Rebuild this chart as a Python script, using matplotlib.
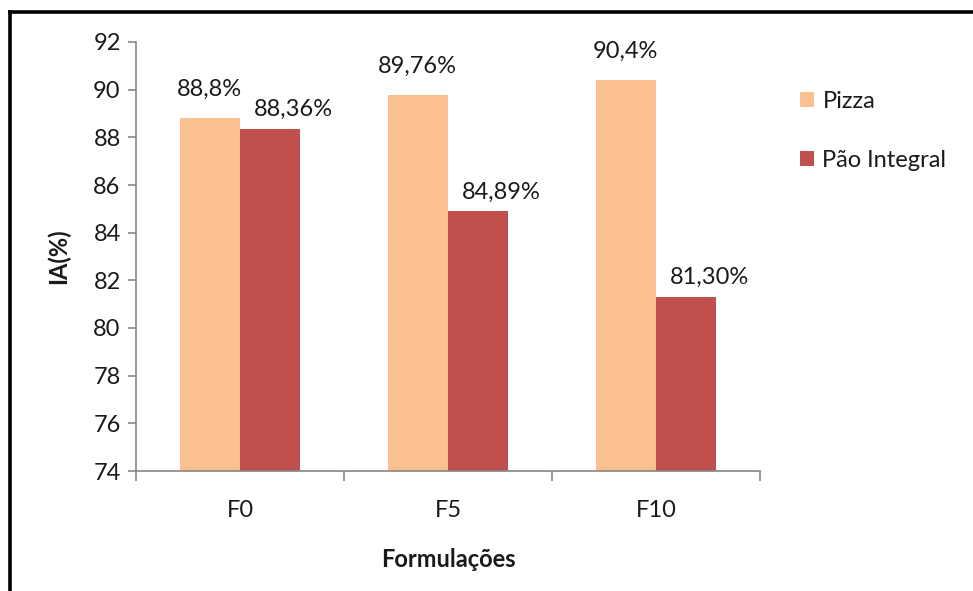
import numpy as np
import matplotlib
matplotlib.use('Agg')
import matplotlib.pyplot as plt
from matplotlib.lines import Line2D
from matplotlib.ticker import FixedLocator

plt.rcParams['font.family'] = ['Lato', 'DejaVu Sans']

# dados do gráfico
formulacoes = ['F0', 'F5', 'F10']
pizza = [88.8, 89.76, 90.4]
pao_integral = [88.36, 84.89, 81.30]
rotulos_pizza = ['88,8%', '89,76%', '90,4%']
rotulos_pao = ['88,36%', '84,89%', '81,30%']
y_ticks = [74, 76, 78, 80, 82, 84, 86, 88, 90, 92]

COR_PIZZA = '#FAC090'
COR_PAO = '#C0504D'
COR_EIXO = '#868686'
COR_TEXTO = '#1a1a1a'
FS = 17

fig = plt.figure(figsize=(9.73, 5.91), dpi=100)
ax = fig.add_axes([136 / 973, 1 - 471 / 591, (760 - 136) / 973, (471 - 42) / 591])

x = np.arange(len(formulacoes))
w = 0.29
b1 = ax.bar(x - w / 2, pizza, w, color=COR_PIZZA, label='Pizza', zorder=2)
b2 = ax.bar(x + w / 2, pao_integral, w, color=COR_PAO, label='Pão Integral', zorder=2)

# rótulos de dados
for rect, txt in zip(b1, rotulos_pizza):
    ax.annotate(txt, (rect.get_x() + rect.get_width() / 2, rect.get_height()),
                xytext=(0, 21), textcoords='offset points', ha='center', va='center',
                fontsize=FS, color=COR_TEXTO)
for rect, txt in zip(b2, rotulos_pao):
    ax.annotate(txt, (rect.get_x() + rect.get_width() / 2, rect.get_height()),
                xytext=(17, 14), textcoords='offset points', ha='center', va='center',
                fontsize=FS, color=COR_TEXTO)

ax.set_ylim(74, 92)
ax.set_xlim(-0.5, 2.5)
ax.set_yticks(y_ticks)
ax.set_yticklabels([str(v) for v in y_ticks])
ax.set_xticks(x)
ax.set_xticklabels(formulacoes)
ax.xaxis.set_minor_locator(FixedLocator([-0.5, 0.5, 1.5, 2.5]))

for s in ['top', 'right']:
    ax.spines[s].set_visible(False)
for s in ['left', 'bottom']:
    ax.spines[s].set_color(COR_EIXO)
    ax.spines[s].set_linewidth(1.2)

ax.tick_params(axis='y', direction='out', length=6, width=1.2, color=COR_EIXO,
               pad=5, labelsize=FS, labelcolor=COR_TEXTO)
ax.tick_params(axis='x', which='major', length=0, pad=21, labelsize=FS, labelcolor=COR_TEXTO)
ax.tick_params(axis='x', which='minor', direction='out', length=7, width=1.2, color=COR_EIXO)

ax.set_ylabel('IA(%)', fontsize=FS, fontweight='bold', color=COR_TEXTO)
ax.yaxis.set_label_coords(-0.105, 0.5)
ax.set_xlabel('Formulações', fontsize=FS, fontweight='bold', color=COR_TEXTO)
ax.xaxis.set_label_coords(0.5, -0.18)

leg = fig.legend(handles=[b1, b2], loc='center left', bbox_to_anchor=(800 / 973, 1 - 131 / 591),
                 frameon=False, fontsize=FS, handlelength=0.6, handleheight=0.6,
                 handletextpad=0.35, labelspacing=1.6, borderpad=0, borderaxespad=0)
for t in leg.get_texts():
    t.set_color(COR_TEXTO)

# moldura preta (esquerda e topo)
fig.add_artist(Line2D([9.5 / 973, 9.5 / 973], [0, 1 - 12 / 591], color='black', lw=2.6,
                      transform=fig.transFigure, solid_capstyle='projecting'))
fig.add_artist(Line2D([9.5 / 973, 1], [1 - 12 / 591, 1 - 12 / 591], color='black', lw=2.6,
                      transform=fig.transFigure, solid_capstyle='projecting'))

fig.savefig('out.png', dpi=100)
